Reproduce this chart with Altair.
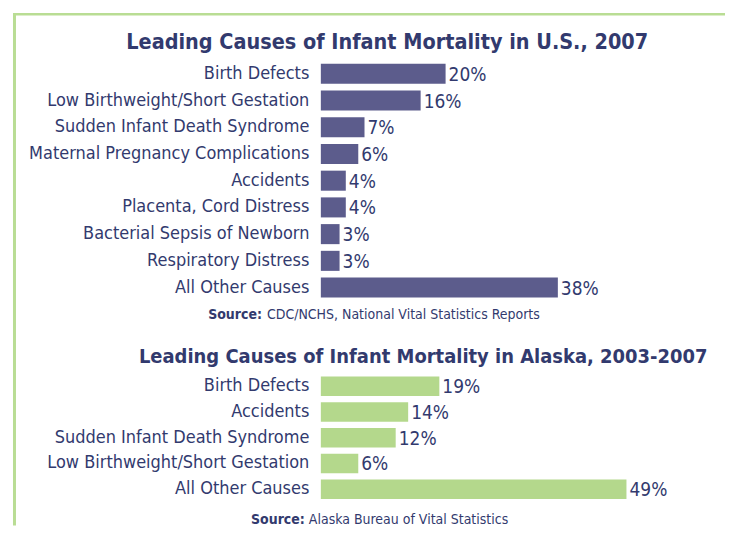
import altair as alt
import pandas as pd

FONT = "DejaVu Sans Condensed, DejaVu Sans, sans-serif"
TEXT = "#323a6e"
US_BAR = "#5c5c8c"
AK_BAR = "#b4d88c"
BORDER = "#b9dd94"

us_title = "Leading Causes of Infant Mortality in U.S., 2007"
us_causes = [
    "Birth Defects",
    "Low Birthweight/Short Gestation",
    "Sudden Infant Death Syndrome",
    "Maternal Pregnancy Complications",
    "Accidents",
    "Placenta, Cord Distress",
    "Bacterial Sepsis of Newborn",
    "Respiratory Distress",
    "All Other Causes",
]
us_pct = [20, 16, 7, 6, 4, 4, 3, 3, 38]
us_source_bold = "Source:"
us_source_rest = "CDC/NCHS, National Vital Statistics Reports"

ak_title = "Leading Causes of Infant Mortality in Alaska, 2003-2007"
ak_causes = [
    "Birth Defects",
    "Accidents",
    "Sudden Infant Death Syndrome",
    "Low Birthweight/Short Gestation",
    "All Other Causes",
]
ak_pct = [19, 14, 12, 6, 49]
ak_source_bold = "Source:"
ak_source_rest = "Alaska Bureau of Vital Statistics"

W = 400
X_MAX = 64
H1 = 241
H2 = 129


def panel(causes, pct, color, height, title, title_size, title_x, title_y,
          src_bold, src_rest, src_x, src_gap, src_y, extra=None):
    df = pd.DataFrame({"cause": causes, "pct": pct})
    base = alt.Chart(df)
    y = alt.Y(
        "cause:N",
        sort=causes,
        scale=alt.Scale(paddingInner=0.25, paddingOuter=0.125),
        axis=alt.Axis(
            title=None, ticks=False, tickSize=0, domain=False, grid=False,
            labelFontSize=18, labelFont=FONT, labelColor=TEXT,
            labelPadding=12, labelLimit=400,
        ),
    )
    x = alt.X("pct:Q", scale=alt.Scale(domain=[0, X_MAX]), axis=None)
    bars = base.mark_bar(color=color).encode(x=x, y=y)
    vals = (
        base.transform_calculate(label="datum.pct + '%'")
        .mark_text(align="left", baseline="middle", dx=3, dy=1, fontSize=19,
                   font=FONT, color=TEXT)
        .encode(x=x, y=y, text="label:N")
    )
    txt_df = pd.DataFrame({"title": [title], "bold": [src_bold], "rest": [src_rest]})
    ttl = alt.Chart(txt_df).mark_text(
        align="center", baseline="alphabetic", fontWeight="bold",
        fontSize=title_size, font=FONT, color=TEXT,
    ).encode(x=alt.value(title_x), y=alt.value(title_y), text="title:N")
    src_b = alt.Chart(txt_df).mark_text(
        align="right", baseline="alphabetic", fontWeight="bold", fontSize=14,
        font=FONT, color=TEXT,
    ).encode(x=alt.value(src_x), y=alt.value(src_y), text="bold:N")
    src_r = alt.Chart(txt_df).mark_text(
        align="left", baseline="alphabetic", fontSize=14, font=FONT, color=TEXT,
    ).encode(x=alt.value(src_x + src_gap), y=alt.value(src_y), text="rest:N")
    layers = [bars, vals, ttl, src_b, src_r]
    if extra:
        layers = extra + layers
    return alt.layer(*layers).properties(width=W, height=height)


one = pd.DataFrame({"k": [0]})
left_border = alt.Chart(one).mark_rule(color=BORDER, strokeWidth=3).encode(
    x=alt.value(-307), y=alt.value(-46.6), y2=alt.value(466)
)
top_border = alt.Chart(one).mark_rule(color=BORDER, strokeWidth=2.5).encode(
    y=alt.value(-46.4), x=alt.value(-308.5), x2=alt.value(405)
)

us = panel(us_causes, us_pct, US_BAR, H1, us_title, 21.5, 66.5, -11.6,
           us_source_bold, us_source_rest, -59, 5, 259.4,
           extra=[left_border, top_border])
ak = panel(ak_causes, ak_pct, AK_BAR, H2, ak_title, 20, 102.5, -10,
           ak_source_bold, ak_source_rest, -16, 4, 151.2)

chart = (
    alt.vconcat(us, ak, spacing=72.6, bounds="flush")
    .properties(padding={"left": 3.5, "top": 3, "right": 0, "bottom": 0},
                background="white")
    .configure_view(stroke=None)
)

chart.save("out.html", embed_options={"renderer": "svg", "actions": False})
